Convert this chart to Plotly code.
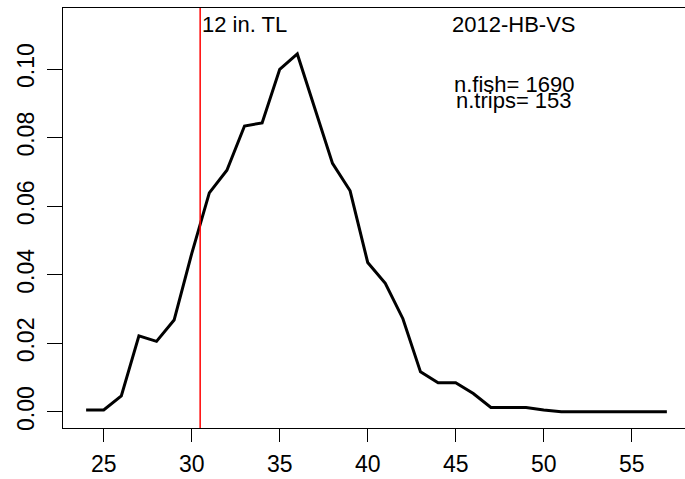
import plotly.graph_objects as go

lengths = list(range(24, 58))
freq = [0.0006, 0.0006, 0.0047, 0.0222, 0.0206, 0.0268, 0.0462, 0.0639, 0.0705, 0.0834,
        0.0843, 0.0999, 0.1044, 0.0884, 0.0725, 0.0645, 0.0436, 0.0375, 0.0272, 0.0117,
        0.0085, 0.0085, 0.0054, 0.0013, 0.0013, 0.0013, 0.0006, 0.0001, 0.0001, 0.0001,
        0.0001, 0.0001, 0.0001, 0.0001]
x_ticks = [25, 30, 35, 40, 45, 50, 55]
y_ticks = [0.00, 0.02, 0.04, 0.06, 0.08, 0.10]
size_limit = 30.48
title_text = "2012-HB-VS"
limit_text = "12 in. TL"
fish_text = "n.fish= 1690"
trips_text = "n.trips= 153"

FONT = "Liberation Sans, Arial, sans-serif"

fig = go.Figure()
fig.add_trace(go.Scatter(x=lengths, y=freq, mode="lines",
                         line=dict(color="black", width=3), showlegend=False,
                         hoverinfo="skip"))
fig.add_shape(type="line", x0=size_limit, x1=size_limit, y0=0, y1=1,
              xref="x", yref="paper", line=dict(color="red", width=1.5))

fig.add_annotation(x=size_limit, y=0.1130, xref="x", yref="y", text=limit_text,
                   showarrow=False, xanchor="left", yanchor="middle",
                   font=dict(family=FONT, size=22, color="black"))
fig.add_annotation(x=48.34, y=0.1130, xref="x", yref="y", text=title_text,
                   showarrow=False, xanchor="center", yanchor="middle",
                   font=dict(family=FONT, size=22, color="black"))
fig.add_annotation(x=48.34, y=0.0954, xref="x", yref="y", text=fish_text,
                   showarrow=False, xanchor="center", yanchor="middle",
                   font=dict(family=FONT, size=22, color="black"))
fig.add_annotation(x=48.34, y=0.0907, xref="x", yref="y", text=trips_text,
                   showarrow=False, xanchor="center", yanchor="middle",
                   font=dict(family=FONT, size=22, color="black"))

fig.update_layout(
    width=685, height=479,
    margin=dict(l=63, r=0, t=8, b=51, autoexpand=False),
    paper_bgcolor="white", plot_bgcolor="white",
    font=dict(family=FONT, size=22, color="black"),
    hovermode=False,
    xaxis=dict(range=[22.686, 58.03], tickvals=x_ticks, showgrid=False, zeroline=False,
               automargin=False,
               showline=True, linecolor="black", linewidth=1, mirror=True,
               ticks="outside", ticklen=13, tickcolor="black", tickwidth=1,
               tickfont=dict(family=FONT, size=23, color="black"), ticklabelstandoff=2),
    yaxis=dict(range=[-0.00467, 0.1178], tickvals=y_ticks, tickformat=".2f",
               showgrid=False, zeroline=False, automargin=False,
               showline=True, linecolor="black", linewidth=1,
               ticks="outside", ticklen=15, tickcolor="black", tickwidth=1,
               tickangle=-90,
               tickfont=dict(family=FONT, size=23, color="black"), ticklabelstandoff=4),
)

fig.write_html("out.html", config={"displayModeBar": False, "staticPlot": True},
               post_script="document.body.style.margin='0px';document.body.style.overflow='hidden';")
